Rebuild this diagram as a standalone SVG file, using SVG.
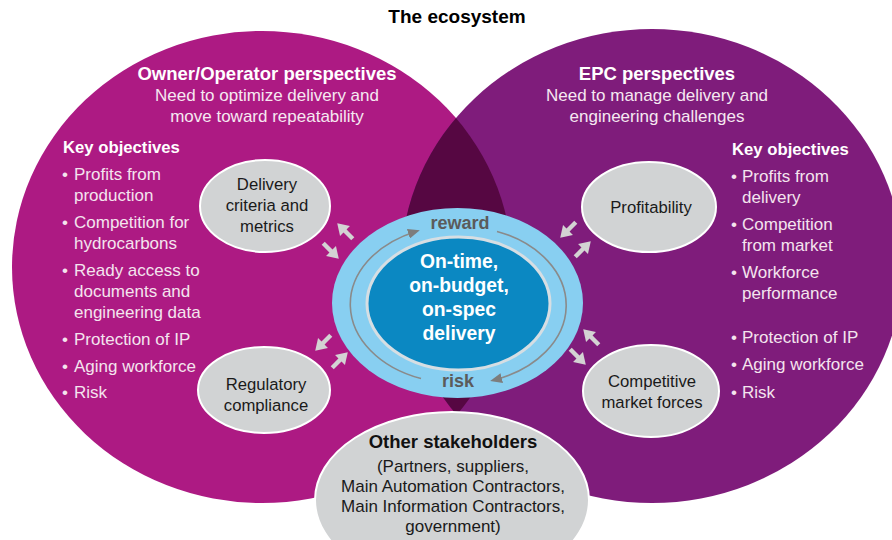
<svg xmlns="http://www.w3.org/2000/svg" width="892" height="540" viewBox="0 0 892 540">
<style>
text{font-family:"Liberation Sans",Arial,sans-serif}
.title{font-size:19px;font-weight:bold;fill:#000}
.head{font-size:18.5px;font-weight:bold;fill:#fff}
.sub{font-size:17px;fill:#f6e8f1}
.ko{font-size:16.7px;font-weight:bold;fill:#fff}
.bl{font-size:17px;fill:#f4e4ee}
.node{fill:#d1d3d4;stroke:#fff;stroke-width:2}
.nt{font-size:16.7px;fill:#1a1a1a;text-anchor:middle}
.hub{font-size:19.3px;font-weight:bold;fill:#fff;text-anchor:middle}
.rr{font-size:18px;font-weight:bold;fill:#5b5b5b;text-anchor:middle}
.ring{fill:none;stroke:#8a8a8a;stroke-width:1.6}
.ba{fill:#d3d3d3}
.st{font-size:17px;fill:#1a1a1a;text-anchor:middle}
</style>
<defs>
<clipPath id="clipL"><ellipse cx="262" cy="267" rx="250" ry="236"/></clipPath>
<marker id="rh" markerUnits="userSpaceOnUse" markerWidth="12" markerHeight="10" refX="8" refY="5" orient="auto" viewBox="0 0 12 10">
<path d="M0,0 L12,5 L0,10 z" fill="#7d7d7d"/>
</marker>
<g id="barrow">
<rect x="-11" y="-2.2" width="12" height="4.4"/>
<polygon points="0,-7 11,0 0,7"/>
</g>
</defs>

<text class="title" x="457" y="23" text-anchor="middle">The ecosystem</text>

<g id="owner-circle">
<ellipse cx="262" cy="267" rx="250" ry="236" fill="#ad1a83"/>
</g>
<g id="epc-circle">
<ellipse cx="652" cy="266" rx="251" ry="237" fill="#7f1c7b"/>
<ellipse cx="652" cy="266" rx="251" ry="237" fill="#560742" clip-path="url(#clipL)"/>
</g>

<g id="owner-text">
<text class="head" x="267" y="80" text-anchor="middle">Owner/Operator perspectives</text>
<text class="sub" x="267" y="101" text-anchor="middle">Need to optimize delivery and</text>
<text class="sub" x="267" y="122" text-anchor="middle">move toward repeatability</text>
<text class="ko" x="63" y="153">Key objectives</text>
<g class="bl">
<text x="62" y="180">•</text><text x="74" y="180">Profits from</text>
<text x="74" y="201">production</text>
<text x="62" y="228">•</text><text x="74" y="228">Competition for</text>
<text x="74" y="249">hydrocarbons</text>
<text x="62" y="276">•</text><text x="74" y="276">Ready access to</text>
<text x="74" y="297">documents and</text>
<text x="74" y="318">engineering data</text>
<text x="62" y="345">•</text><text x="74" y="345">Protection of IP</text>
<text x="62" y="372">•</text><text x="74" y="372">Aging workforce</text>
<text x="62" y="398">•</text><text x="74" y="398">Risk</text>
</g>
</g>

<g id="epc-text">
<text class="head" x="657" y="80" text-anchor="middle">EPC perspectives</text>
<text class="sub" x="657" y="101" text-anchor="middle">Need to manage delivery and</text>
<text class="sub" x="657" y="122" text-anchor="middle">engineering challenges</text>
<text class="ko" x="732" y="155">Key objectives</text>
<g class="bl">
<text x="731" y="182">•</text><text x="742" y="182">Profits from</text>
<text x="742" y="203">delivery</text>
<text x="731" y="230">•</text><text x="742" y="230">Competition</text>
<text x="742" y="251">from market</text>
<text x="731" y="278">•</text><text x="742" y="278">Workforce</text>
<text x="742" y="299">performance</text>
<text x="731" y="343">•</text><text x="742" y="343">Protection of IP</text>
<text x="731" y="370">•</text><text x="742" y="370">Aging workforce</text>
<text x="731" y="398">•</text><text x="742" y="398">Risk</text>
</g>
</g>

<g id="hub">
<ellipse cx="457.5" cy="303" rx="125.5" ry="95" fill="#88cff1"/>
<ellipse cx="458.5" cy="303.5" rx="91.5" ry="66.5" fill="#0b88c2" stroke="#d6dee3" stroke-width="3"/>
<text class="hub" x="459" y="268">On-time,</text>
<text class="hub" x="459" y="292">on-budget,</text>
<text class="hub" x="459" y="316">on-spec</text>
<text class="hub" x="459" y="340">delivery</text>
<text class="rr" x="460" y="229">reward</text>
<text class="rr" x="458" y="387">risk</text>
</g>

<g id="connectors">
<path class="ring" d="M421,378.6 A107 79 0 0 1 416,231.4" marker-end="url(#rh)"/>
<path class="ring" d="M497,231.4 A107 79 0 0 1 494,380" marker-end="url(#rh)"/>
<g class="ba">
<use href="#barrow" transform="translate(345,231) rotate(-135)"/>
<use href="#barrow" transform="translate(331,251) rotate(45)"/>
<use href="#barrow" transform="translate(323,343) rotate(135)"/>
<use href="#barrow" transform="translate(340,360) rotate(-45)"/>
<use href="#barrow" transform="translate(568,230) rotate(135)"/>
<use href="#barrow" transform="translate(583,249) rotate(-45)"/>
<use href="#barrow" transform="translate(591,337) rotate(-135)"/>
<use href="#barrow" transform="translate(578,357) rotate(45)"/>
</g>
</g>

<g id="delivery">
<ellipse class="node" cx="265" cy="206" rx="65" ry="46"/>
<text class="nt" x="267" y="190">Delivery</text>
<text class="nt" x="267" y="211">criteria and</text>
<text class="nt" x="267" y="232">metrics</text>
</g>
<g id="profitability">
<ellipse class="node" cx="649" cy="207" rx="67" ry="45"/>
<text class="nt" x="651" y="213">Profitability</text>
</g>
<g id="regulatory">
<ellipse class="node" cx="264" cy="390" rx="66" ry="43"/>
<text class="nt" x="266" y="390">Regulatory</text>
<text class="nt" x="266" y="411">compliance</text>
</g>
<g id="competitive">
<ellipse class="node" cx="651" cy="391" rx="68" ry="46"/>
<text class="nt" x="652" y="387">Competitive</text>
<text class="nt" x="652" y="408">market forces</text>
</g>
<g id="stakeholders">
<ellipse class="node" cx="452" cy="500" rx="137" ry="88"/>
<text x="453" y="448" text-anchor="middle" style="font-size:18.5px;font-weight:bold;fill:#111">Other stakeholders</text>
<text class="st" x="453" y="472">(Partners, suppliers,</text>
<text class="st" x="453" y="492">Main Automation Contractors,</text>
<text class="st" x="453" y="512">Main Information Contractors,</text>
<text class="st" x="453" y="532">government)</text>
</g>
</svg>
